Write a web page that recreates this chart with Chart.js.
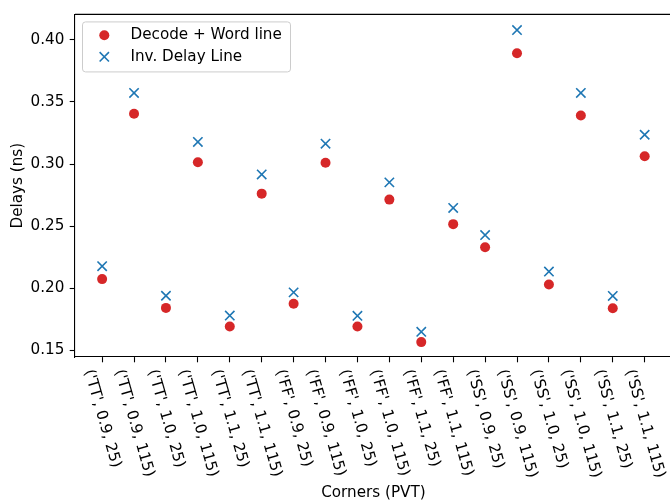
<!DOCTYPE html>
<html>
<head>
<meta charset="utf-8">
<script src="https://cdn.jsdelivr.net/npm/chart.js"></script>
<style>
  html, body { margin: 0; padding: 0; background: #fff; overflow: hidden; }
  #wrap { width: 680px; height: 504px; }
</style>
</head>
<body>
<div id="wrap"><canvas id="chart" width="680" height="504"></canvas></div>
<script>
// ── Data ─────────────────────────────────────────────────────────────────────
const corners = [
  "('TT', 0.9, 25)", "('TT', 0.9, 115)", "('TT', 1.0, 25)", "('TT', 1.0, 115)",
  "('TT', 1.1, 25)", "('TT', 1.1, 115)", "('FF', 0.9, 25)", "('FF', 0.9, 115)",
  "('FF', 1.0, 25)", "('FF', 1.0, 115)", "('FF', 1.1, 25)", "('FF', 1.1, 115)",
  "('SS', 0.9, 25)", "('SS', 0.9, 115)", "('SS', 1.0, 25)", "('SS', 1.0, 115)",
  "('SS', 1.1, 25)", "('SS', 1.1, 115)",
];
const decodeWordline = [
  0.2072, 0.3405, 0.1840, 0.3014, 0.1690, 0.2761,
  0.1874, 0.3010, 0.1690, 0.2713, 0.1564, 0.2515,
  0.2329, 0.3893, 0.2029, 0.3391, 0.1837, 0.3063,
];
const invDelayLine = [
  0.2176, 0.3573, 0.1938, 0.3178, 0.1778, 0.2916,
  0.1965, 0.3164, 0.1776, 0.2852, 0.1647, 0.2646,
  0.2427, 0.4080, 0.2133, 0.3573, 0.1936, 0.3236,
];
const yTicks = [0.15, 0.20, 0.25, 0.30, 0.35, 0.40];

// ── Style ────────────────────────────────────────────────────────────────────
const RED  = "#d62728";
const BLUE = "#1f77b4";
const FONT = { family: "DejaVu Sans", size: 15.2 };
const LABEL_ANGLE = 74; // degrees, clockwise
const TICK = 5.3;

Chart.defaults.font.family = FONT.family;
Chart.defaults.font.size = FONT.size;
Chart.defaults.color = "#000";

// ── Plugins ──────────────────────────────────────────────────────────────────
// top/right spines
const frame = {
  id: "frame",
  afterDraw(chart) {
    const { ctx, chartArea: a } = chart;
    ctx.save();
    ctx.strokeStyle = "#000";
    ctx.lineWidth = 1.1;
    ctx.beginPath();
    ctx.moveTo(a.left, a.top);
    ctx.lineTo(a.right, a.top);
    ctx.lineTo(a.right, a.bottom);
    ctx.stroke();
    ctx.restore();
  },
};

// x labels turned clockwise, like matplotlib rotation=-74
const slantedTicks = {
  id: "slantedTicks",
  afterDraw(chart) {
    const { ctx } = chart;
    const xs = chart.scales.x;
    const ang = LABEL_ANGLE * Math.PI / 180;
    ctx.save();
    ctx.font = `${FONT.size}px "${FONT.family}"`;
    ctx.fillStyle = "#000";
    ctx.textAlign = "center";
    ctx.textBaseline = "middle";
    corners.forEach((lab, i) => {
      const w = ctx.measureText(lab).width;
      const boxH = w * Math.sin(ang) + 17.5 * Math.cos(ang);
      const px = xs.getPixelForValue(i);
      const cy = xs.top + 2 * TICK + boxH / 2;
      ctx.save();
      ctx.translate(px, cy);
      ctx.rotate(ang);
      ctx.fillText(lab, 0, 0);
      ctx.restore();
    });
    ctx.restore();
  },
};

// matplotlib-style legend box in the upper left
const legendBox = {
  id: "legendBox",
  afterDraw(chart) {
    const { ctx, chartArea: a } = chart;
    const x = a.left + 7.5, y = a.top + 7.5, w = 208, h = 50;
    ctx.save();
    ctx.beginPath();
    ctx.roundRect(x, y, w, h, 3);
    ctx.fillStyle = "rgba(255,255,255,0.8)";
    ctx.fill();
    ctx.strokeStyle = "#cccccc";
    ctx.lineWidth = 1;
    ctx.stroke();

    ctx.font = `${FONT.size}px "${FONT.family}"`;
    ctx.textBaseline = "middle";
    ctx.textAlign = "left";
    chart.data.datasets.forEach((ds, i) => {
      const cy = y + 13.3 + i * 21.6;
      const mx = x + 21.8;
      if (ds.pointStyle === "circle") {
        ctx.beginPath();
        ctx.arc(mx, cy, ds.pointRadius, 0, Math.PI * 2);
        ctx.fillStyle = ds.backgroundColor;
        ctx.fill();
      } else {
        const r = ds.pointRadius * Math.SQRT1_2;
        ctx.beginPath();
        ctx.moveTo(mx - r, cy - r); ctx.lineTo(mx + r, cy + r);
        ctx.moveTo(mx - r, cy + r); ctx.lineTo(mx + r, cy - r);
        ctx.strokeStyle = ds.borderColor;
        ctx.lineWidth = ds.borderWidth;
        ctx.stroke();
      }
      ctx.fillStyle = "#000";
      ctx.fillText(ds.label, x + 48, cy);
    });
    ctx.restore();
  },
};

// ── Chart ────────────────────────────────────────────────────────────────────
new Chart(document.getElementById("chart"), {
  type: "scatter",
  data: {
    datasets: [
      {
        label: "Decode + Word line",
        data: decodeWordline.map((v, i) => ({ x: i, y: v })),
        pointStyle: "circle",
        pointRadius: 5,
        backgroundColor: RED,
        borderColor: RED,
        borderWidth: 0,
      },
      {
        label: "Inv. Delay Line",
        data: invDelayLine.map((v, i) => ({ x: i, y: v })),
        pointStyle: "crossRot",
        pointRadius: 6.6,
        backgroundColor: BLUE,
        borderColor: BLUE,
        borderWidth: 1.6,
      },
    ],
  },
  options: {
    responsive: false,
    animation: false,
    events: [],
    layout: { padding: { top: 12, right: 5.2, bottom: 0, left: 0 } },
    plugins: {
      legend: { display: false },
      tooltip: { enabled: false },
    },
    scales: {
      x: {
        type: "linear",
        min: -0.85,
        max: 17.85,
        afterBuildTicks: s => { s.ticks = corners.map((_, i) => ({ value: i })); },
        afterFit: s => { s.height = 147; },
        ticks: { display: false },
        grid: { drawOnChartArea: false, drawTicks: true, tickLength: TICK, tickColor: "#000", tickWidth: 1.1 },
        border: { display: true, color: "#000", width: 1.1 },
        title: { display: true, text: "Corners (PVT)", font: FONT, padding: { top: 0, bottom: 2 } },
      },
      y: {
        min: 0.1444,
        max: 0.4206,
        afterBuildTicks: s => { s.ticks = yTicks.map(v => ({ value: v })); },
        afterFit: s => { s.width = 75; },
        ticks: { font: FONT, padding: TICK, callback: v => v.toFixed(2) },
        grid: { drawOnChartArea: false, drawTicks: true, tickLength: TICK, tickColor: "#000", tickWidth: 1.1 },
        border: { display: true, color: "#000", width: 1.1 },
        title: { display: true, text: "Delays (ns)", font: FONT, padding: { top: 8.9, bottom: 0 } },
      },
    },
  },
  plugins: [frame, slantedTicks, legendBox],
});
</script>
</body>
</html>
